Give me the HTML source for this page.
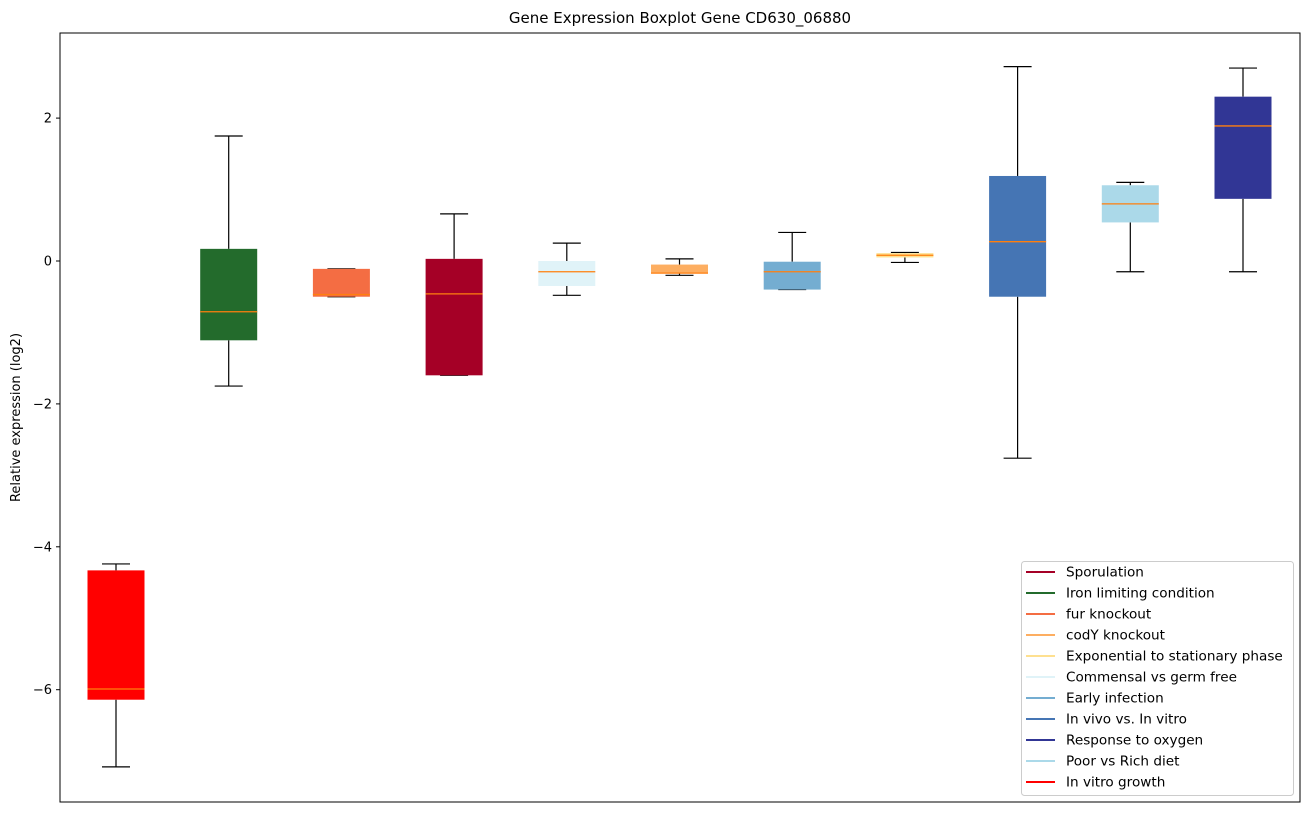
<!DOCTYPE html>
<html><head><meta charset="utf-8"><style>
body{margin:0;background:#fff;font-family:"Liberation Sans","DejaVu Sans",sans-serif;}
svg text{font-family:"DejaVu Sans","Liberation Sans",sans-serif;}
</style></head><body>
<svg id="chart" width="1309" height="812" xmlns="http://www.w3.org/2000/svg"></svg>
<script>
const categories=["In vitro growth","Iron limiting condition","fur knockout","Sporulation","Commensal vs germ free","codY knockout","Early infection","Exponential to stationary phase","In vivo vs. In vitro","Poor vs Rich diet","Response to oxygen"];
const colors=["#ff0000","#236b2c","#f46d43","#a50026","#e0f3f8","#fdae61","#74add1","#fee090","#4575b4","#abd9e9","#313695"];
const mins=[-7.08,-1.75,-0.50,-1.60,-0.48,-0.20,-0.40,-0.02,-2.76,-0.15,-0.15];
const q1s=[-6.14,-1.11,-0.50,-1.60,-0.35,-0.17,-0.40,0.05,-0.50,0.54,0.87];
const medians=[-5.99,-0.71,-0.47,-0.46,-0.15,-0.17,-0.15,0.08,0.27,0.80,1.89];
const q3s=[-4.33,0.17,-0.11,0.03,0.00,-0.05,-0.01,0.11,1.19,1.06,2.30];
const maxs=[-4.24,1.75,-0.11,0.66,0.25,0.03,0.40,0.12,2.72,1.10,2.70];
const yTicks=[2,0,-2,-4,-6];
const legendLabels=["Sporulation","Iron limiting condition","fur knockout","codY knockout","Exponential to stationary phase","Commensal vs germ free","Early infection","In vivo vs. In vitro","Response to oxygen","Poor vs Rich diet","In vitro growth"];
const legendColors=["#a50026","#236b2c","#f46d43","#fdae61","#fee090","#e0f3f8","#74add1","#4575b4","#313695","#abd9e9","#ff0000"];

const svg=document.getElementById('chart');
const NS="http://www.w3.org/2000/svg";
const L=60,R=1300,T=33,B=802;
const y=v=>261-v*71.45;
const x=i=>116+i*112.7;
function mk(tag,attrs,parent){const e=document.createElementNS(NS,tag);for(const k in attrs)e.setAttribute(k,attrs[k]);(parent||svg).appendChild(e);return e;}

const title=mk('text',{x:680,y:23,'text-anchor':'middle','font-size':15,fill:'#000'});


title.textContent="Gene Expression Boxplot Gene CD630_06880";

const yt=mk('text',{x:20,y:(T+B)/2,'text-anchor':'middle','font-size':13,transform:`rotate(-90 20 ${(T+B)/2})`});


yt.textContent="Relative expression (log2)";

yTicks.forEach(t=>{
  const g=mk('g',{});
  
  
  mk('line',{x1:L-4,x2:L,y1:y(t),y2:y(t),stroke:'#000'},g);
  const tx=mk('text',{x:L-8,y:y(t)+4.5,'text-anchor':'end','font-size':13},g);
  tx.textContent=t<0?'\u2212'+Math.abs(t):String(t);
});

categories.forEach((c,i)=>{
  const g=mk('g',{});
  
  
  const cx=x(i),hw=28.5,cw=14;
  mk('line',{x1:cx,x2:cx,y1:y(maxs[i]),y2:y(q3s[i]),stroke:'#000','stroke-width':1.2},g);
  mk('line',{x1:cx,x2:cx,y1:y(q1s[i]),y2:y(mins[i]),stroke:'#000','stroke-width':1.2},g);
  mk('line',{x1:cx-cw,x2:cx+cw,y1:y(maxs[i]),y2:y(maxs[i]),stroke:'#000','stroke-width':1.2},g);
  mk('line',{x1:cx-cw,x2:cx+cw,y1:y(mins[i]),y2:y(mins[i]),stroke:'#000','stroke-width':1.2},g);
  const h=Math.max(1,y(q1s[i])-y(q3s[i]));
  mk('rect',{x:cx-hw,y:y(q3s[i]),width:hw*2,height:h,fill:colors[i]},g);
  mk('line',{x1:cx-hw,x2:cx+hw,y1:y(medians[i]),y2:y(medians[i]),stroke:'#ff7f0e','stroke-width':1.3},g);
});

mk('rect',{x:L,y:T,width:R-L,height:B-T,fill:'none',stroke:'#000','stroke-width':1});

const lg=mk('g',{});


mk('rect',{x:1021.5,y:561.5,width:272,height:234,rx:3,fill:'#fff',stroke:'#ccc'},lg);
legendLabels.forEach((l,i)=>{
  const e=mk('g',{},lg);
  
  
  const yy=572+i*21;
  mk('line',{x1:1026,x2:1055,y1:yy,y2:yy,stroke:legendColors[i],'stroke-width':2},e);
  const t=mk('text',{x:1066,y:yy+4.5,'font-size':13.6},e);
  t.textContent=l;
});
</script>
</body></html>
